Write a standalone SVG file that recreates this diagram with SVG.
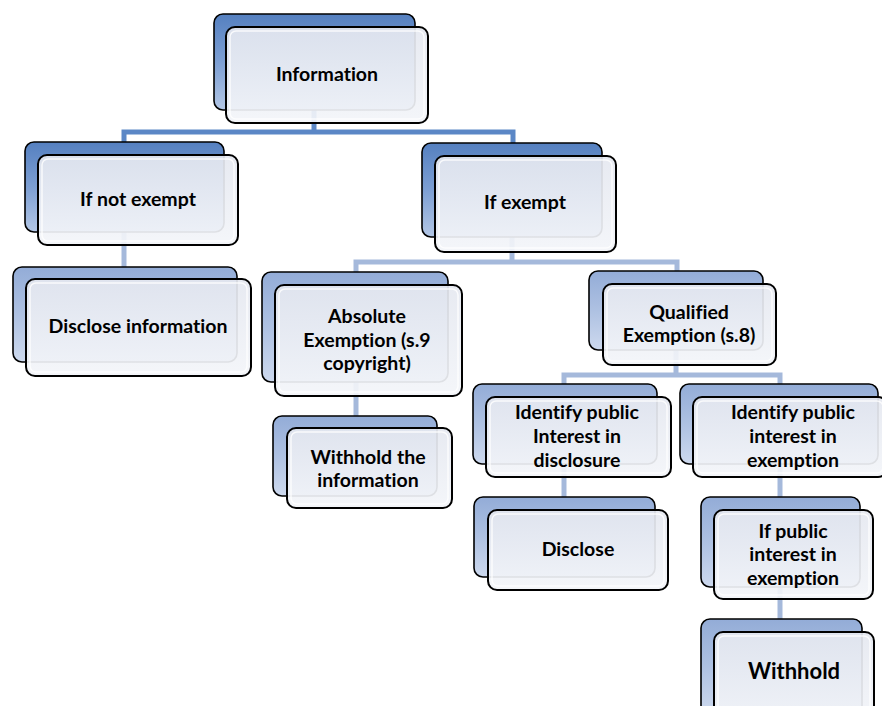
<svg xmlns="http://www.w3.org/2000/svg" width="882" height="706" viewBox="0 0 882 706">
<defs>
<linearGradient id="gDark" x1="0" y1="0" x2="0" y2="1">
<stop offset="0" stop-color="#5580c0"/>
<stop offset="0.5" stop-color="#7d9fd3"/>
<stop offset="1" stop-color="#b3c7e6"/>
</linearGradient>
<linearGradient id="gLight" x1="0" y1="0" x2="0" y2="1">
<stop offset="0" stop-color="#93acd7"/>
<stop offset="0.5" stop-color="#aec1e2"/>
<stop offset="1" stop-color="#cdd9ee"/>
</linearGradient>
<linearGradient id="gFront" x1="0" y1="0" x2="0" y2="1">
<stop offset="0" stop-color="#e5e8f0"/>
<stop offset="1" stop-color="#f3f5f9"/>
</linearGradient>
</defs>
<style>
.bkD{fill:url(#gDark);stroke:#000;stroke-width:1.6}
.bkL{fill:url(#gLight);stroke:#000;stroke-width:1.6}
.fr{fill:url(#gFront);fill-opacity:0.92;stroke:#000;stroke-width:2}
.hl{fill:none;stroke:#ffffff;stroke-opacity:0.8;stroke-width:1.5}
.t{font-family:"Lato","Liberation Sans",sans-serif;font-weight:bold;font-size:19.5px;fill:#000;text-anchor:middle;font-variant-ligatures:none;font-feature-settings:"liga" 0,"dlig" 0}
.big{font-size:22px}
.c1{fill:none;stroke:#5b87c6;stroke-width:5}
.c2{fill:none;stroke:#a5b9db;stroke-width:5}
</style>
<rect width="882" height="706" fill="#ffffff"/>
<g id="connectors">
<path class="c1" d="M314 110 V132 M124 142 V132 H513 V143"/>
<path class="c2" d="M124 232 V267"/>
<path class="c2" d="M512 237 V262 M356 272 V262 H677 V271"/>
<path class="c2" d="M356 382 V416"/>
<path class="c2" d="M676 350 V375 M564 384 V375 H780 V384"/>
<path class="c2" d="M564 464 V497"/>
<path class="c2" d="M780 464 V497"/>
<path class="c2" d="M780 587 V619"/>
</g>
<g id="information">
<rect class="bkD" x="214" y="14" width="201" height="96" rx="9"/>
<rect class="fr" x="226" y="27" width="202" height="96" rx="9"/>
<rect class="hl" x="230" y="31" width="194" height="88" rx="6"/>
<text class="t" x="327" y="81">Information</text>
</g>
<g id="if-not-exempt">
<rect class="bkD" x="25" y="142" width="199" height="90" rx="9"/>
<rect class="fr" x="38" y="155" width="200" height="90" rx="9"/>
<rect class="hl" x="42" y="159" width="192" height="82" rx="6"/>
<text class="t" x="138" y="206">If not exempt</text>
</g>
<g id="disclose-information">
<rect class="bkL" x="13" y="267" width="224" height="95" rx="9"/>
<rect class="fr" x="26" y="279" width="225" height="97" rx="9"/>
<rect class="hl" x="30" y="283" width="217" height="89" rx="6"/>
<text class="t" x="138" y="333">Disclose information</text>
</g>
<g id="if-exempt">
<rect class="bkD" x="422" y="143" width="180" height="94" rx="9"/>
<rect class="fr" x="435" y="156" width="181" height="96" rx="9"/>
<rect class="hl" x="439" y="160" width="173" height="88" rx="6"/>
<text class="t" x="525" y="209">If exempt</text>
</g>
<g id="absolute-exemption">
<rect class="bkL" x="262" y="272" width="186" height="110" rx="9"/>
<rect class="fr" x="275" y="285" width="187" height="111" rx="9"/>
<rect class="hl" x="279" y="289" width="179" height="103" rx="6"/>
<text class="t" x="367" y="323">Absolute</text>
<text class="t" x="367" y="347">Exemption (s.9</text>
<text class="t" x="367" y="370">copyright)</text>
</g>
<g id="withhold-the-information">
<rect class="bkL" x="273" y="416" width="164" height="80" rx="9"/>
<rect class="fr" x="287" y="428" width="165" height="80" rx="9"/>
<rect class="hl" x="291" y="432" width="157" height="72" rx="6"/>
<text class="t" x="368" y="464">Withhold the</text>
<text class="t" x="368" y="487">information</text>
</g>
<g id="qualified-exemption">
<rect class="bkL" x="589" y="271" width="174" height="79" rx="9"/>
<rect class="fr" x="603" y="284" width="173" height="81" rx="9"/>
<rect class="hl" x="607" y="288" width="165" height="73" rx="6"/>
<text class="t" x="689" y="319">Qualified</text>
<text class="t" x="689" y="342">Exemption (s.8)</text>
</g>
<g id="identify-disclosure">
<rect class="bkL" x="473" y="384" width="184" height="80" rx="9"/>
<rect class="fr" x="486" y="397" width="185" height="80" rx="9"/>
<rect class="hl" x="490" y="401" width="177" height="72" rx="6"/>
<text class="t" x="577" y="419">Identify public</text>
<text class="t" x="577" y="443">Interest in</text>
<text class="t" x="577" y="467">disclosure</text>
</g>
<g id="identify-exemption">
<rect class="bkL" x="680" y="384" width="198" height="80" rx="9"/>
<rect class="fr" x="693" y="397" width="194" height="80" rx="9"/>
<rect class="hl" x="697" y="401" width="186" height="72" rx="6"/>
<text class="t" x="793" y="419">Identify public</text>
<text class="t" x="793" y="443">interest in</text>
<text class="t" x="793" y="467">exemption</text>
</g>
<g id="disclose">
<rect class="bkL" x="474" y="497" width="181" height="80" rx="9"/>
<rect class="fr" x="488" y="510" width="180" height="80" rx="9"/>
<rect class="hl" x="492" y="514" width="172" height="72" rx="6"/>
<text class="t" x="578" y="556">Disclose</text>
</g>
<g id="if-public-interest">
<rect class="bkL" x="701" y="497" width="159" height="90" rx="9"/>
<rect class="fr" x="714" y="510" width="159" height="89" rx="9"/>
<rect class="hl" x="718" y="514" width="151" height="81" rx="6"/>
<text class="t" x="793" y="538">If public</text>
<text class="t" x="793" y="561">interest in</text>
<text class="t" x="793" y="585">exemption</text>
</g>
<g id="withhold">
<rect class="bkL" x="701" y="619" width="161" height="95" rx="9"/>
<rect class="fr" x="714" y="632" width="160" height="95" rx="9"/>
<rect class="hl" x="718" y="636" width="152" height="87" rx="6"/>
<text class="t big" x="794" y="679">Withhold</text>
</g>
</svg>
